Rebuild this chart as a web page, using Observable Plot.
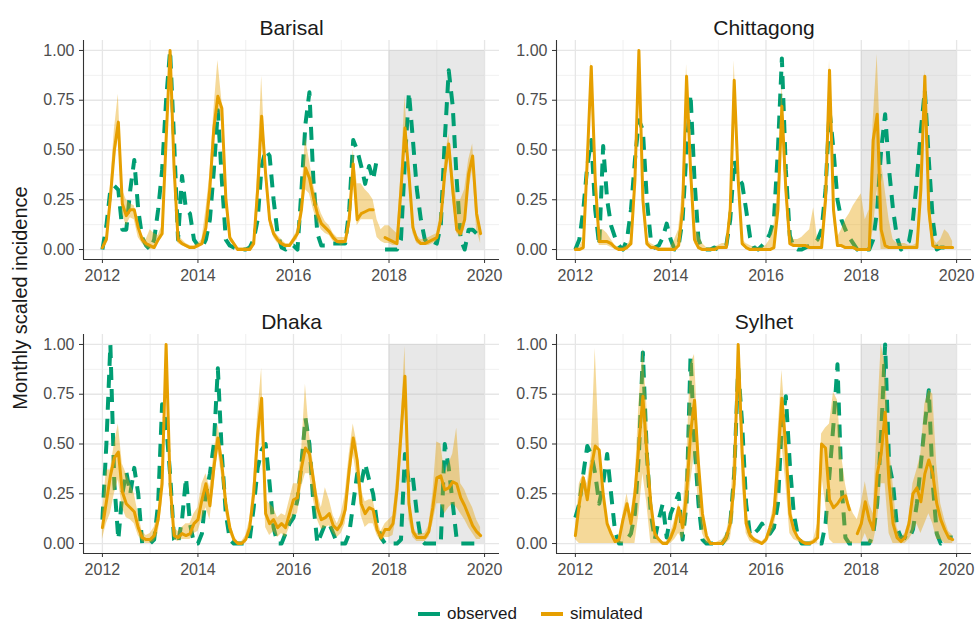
<!DOCTYPE html>
<html>
<head>
<meta charset="utf-8">
<script src="https://cdn.jsdelivr.net/npm/d3@7"></script>
<script src="https://cdn.jsdelivr.net/npm/@observablehq/plot@0.6"></script>
<style>
  body { margin: 0; background: #fff; }
  #root { position: relative; width: 976px; height: 627px; font-family: "Liberation Sans", Arial, sans-serif; overflow: hidden; }
  .pnl { position: absolute; }
  .ylab { position: absolute; left: 20px; top: 298px; transform: translate(-50%, -50%) rotate(-90deg); font-size: 20px; color: #1a1a1a; white-space: nowrap; }
  .leg { position: absolute; font-size: 17px; color: #1a1a1a; line-height: 20px; }
  .sw { position: absolute; width: 22px; }
</style>
</head>
<body>
<div id="root">
  <div class="pnl" id="p0" style="left:0;top:0"></div>
  <div class="pnl" id="p1" style="left:500px;top:0"></div>
  <div class="pnl" id="p2" style="left:0;top:294px"></div>
  <div class="pnl" id="p3" style="left:500px;top:294px"></div>
  <div class="ylab">Monthly scaled incidence</div>
  <div class="sw" style="left:418px;top:612px;height:4px;background:#009E73"></div>
  <div class="leg" style="left:447px;top:604px">observed</div>
  <div class="sw" style="left:541px;top:612px;height:4px;background:#E69F00"></div>
  <div class="leg" style="left:570px;top:604px">simulated</div>
</div>
<script>
// ---- categories / ticks ----
const regions = ["Barisal", "Chittagong", "Dhaka", "Sylhet"];
const firstYear = 2012;
const nMonths = 96;
const xTicks = [2012, 2014, 2016, 2018, 2020];
const xGridMajor = [2012, 2014, 2016, 2018, 2020];
const xGridMinor = [2013, 2015, 2017, 2019];
const yTicks = [0, 0.25, 0.5, 0.75, 1];
const yGridMinor = [0.125, 0.375, 0.625, 0.875];
const forecastStart = 2018, forecastEnd = 2020;

// ---- Barisal ----
const barisalObs = [
  0.00,0.12,0.30,0.32,0.30,0.10,0.10,0.30,0.45,0.20,0.06,0.02,
  0.00,0.05,0.20,0.40,0.75,1.00,0.55,0.05,0.37,0.20,0.18,0.05,
  0.02,0.01,0.05,0.15,0.40,0.70,0.35,0.05,0.02,0.01,0.00,0.00,
  0.00,0.01,0.05,0.15,0.42,0.50,0.47,0.25,0.08,0.01,0.00,0.02,
  0.02,0.00,0.30,0.63,0.79,0.35,0.08,0.02,0.02,0.03,0.03,0.03,
  0.03,0.03,0.20,0.55,0.50,0.42,0.33,0.42,0.35,0.46,null,0.00,
  0.00,0.00,0.00,0.05,0.45,0.79,0.55,0.30,0.15,0.05,0.03,0.04,
  0.03,0.12,0.55,0.90,0.72,0.35,0.05,0.00,0.10,0.10,0.08,0.06];
const barisalSim = [
  0.01,0.05,0.26,0.50,0.64,0.23,0.17,0.20,0.20,0.11,0.05,0.03,
  0.02,0.01,0.05,0.08,0.55,1.00,0.41,0.05,0.03,0.02,0.01,0.01,
  0.02,0.03,0.11,0.31,0.61,0.77,0.71,0.26,0.06,0.03,0.00,0.00,
  0.00,0.00,0.03,0.30,0.67,0.38,0.15,0.08,0.05,0.03,0.02,0.02,
  0.05,0.08,0.20,0.41,0.36,0.26,0.18,0.13,0.11,0.09,0.06,0.04,
  0.04,0.04,0.15,0.43,0.15,0.18,0.19,0.20,0.20,null,null,0.06,
  0.05,0.04,0.03,0.30,0.61,0.38,0.11,0.05,0.03,0.03,0.04,0.05,
  0.06,0.15,0.38,0.53,0.30,0.10,0.08,0.15,0.38,0.47,0.18,0.08];
const barisalLo = [
  0.00,0.03,0.22,0.42,0.58,0.18,0.12,0.16,0.15,0.06,0.03,0.01,
  0.00,0.00,0.03,0.06,0.50,0.97,0.38,0.03,0.02,0.01,0.00,0.00,
  0.01,0.02,0.08,0.25,0.55,0.72,0.65,0.22,0.04,0.02,0.00,0.00,
  0.00,0.00,0.02,0.25,0.60,0.33,0.12,0.06,0.03,0.02,0.01,0.01,
  0.03,0.05,0.15,0.30,0.28,0.20,0.14,0.10,0.08,0.07,0.04,0.03,
  0.02,0.03,0.10,0.35,0.12,0.15,0.15,0.15,0.15,0.06,0.04,0.03,
  0.03,0.02,0.02,0.25,0.55,0.33,0.08,0.03,0.02,0.02,0.02,0.03,
  0.04,0.12,0.30,0.48,0.25,0.08,0.06,0.10,0.30,0.40,0.10,0.03];
const barisalHi = [
  0.02,0.07,0.32,0.60,0.78,0.30,0.25,0.23,0.22,0.13,0.07,0.05,
  0.10,0.08,0.07,0.12,0.62,1.00,0.45,0.07,0.05,0.03,0.02,0.02,
  0.03,0.05,0.20,0.38,0.70,0.95,0.75,0.30,0.08,0.04,0.01,0.01,
  0.01,0.01,0.05,0.40,0.87,0.45,0.18,0.10,0.07,0.05,0.03,0.03,
  0.06,0.10,0.25,0.56,0.45,0.33,0.24,0.18,0.14,0.12,0.08,0.06,
  0.06,0.06,0.20,0.50,0.33,0.33,0.30,0.28,0.25,0.15,0.10,0.12,
  0.12,0.10,0.08,0.38,0.77,0.45,0.15,0.07,0.05,0.05,0.06,0.07,
  0.08,0.20,0.45,0.58,0.40,0.25,0.25,0.30,0.45,0.53,0.25,0.10];

// ---- Chittagong ----
const chittagongObs = [
  0.00,0.05,0.20,0.42,0.55,0.20,0.02,0.52,0.25,0.12,0.06,0.02,
  0.00,0.05,0.20,0.45,0.65,0.60,0.25,0.05,0.01,0.02,0.06,0.13,
  0.05,0.00,0.02,0.15,0.50,0.78,0.35,0.05,0.00,0.00,0.00,0.01,
  0.00,0.00,0.02,0.15,0.45,0.36,0.33,0.20,0.06,0.01,0.00,0.02,
  0.04,0.08,0.15,0.50,0.96,0.40,0.07,0.01,0.00,0.00,0.01,0.02,
  0.03,0.05,0.10,0.30,0.70,0.50,0.25,0.15,0.10,0.06,0.03,0.00,
  0.00,0.00,0.00,0.05,0.20,0.50,0.68,0.40,0.20,0.06,0.00,0.02,
  0.04,0.15,0.35,0.60,0.80,0.45,0.15,0.00,0.01,0.01,0.01,0.01];
const chittagongSim = [
  0.00,0.00,0.01,0.45,0.92,0.35,0.04,0.04,0.04,0.03,0.01,0.00,
  0.00,0.01,0.03,0.35,1.00,0.25,0.03,0.01,0.01,0.00,0.00,0.00,
  0.00,0.00,0.02,0.20,0.87,0.40,0.05,0.01,0.00,0.00,0.00,0.00,
  0.01,0.01,0.01,0.20,0.85,0.35,0.03,0.01,0.00,0.00,0.00,0.00,
  0.00,0.00,0.01,0.20,0.72,0.30,0.03,0.02,0.02,0.02,0.02,0.01,
  0.01,0.01,0.01,0.25,0.90,0.20,0.02,0.02,0.01,0.01,0.01,0.00,
  0.00,0.00,0.00,0.55,0.68,0.10,0.02,0.01,0.01,0.01,0.01,0.01,
  0.01,0.01,0.01,0.30,0.87,0.20,0.02,0.01,0.01,0.01,0.01,0.01];
const chittagongLo = [
  0.00,0.00,0.00,0.40,0.88,0.28,0.02,0.02,0.02,0.01,0.00,0.00,
  0.00,0.00,0.02,0.30,0.97,0.20,0.02,0.00,0.00,0.00,0.00,0.00,
  0.00,0.00,0.01,0.15,0.80,0.33,0.03,0.00,0.00,0.00,0.00,0.00,
  0.00,0.00,0.00,0.15,0.78,0.30,0.02,0.00,0.00,0.00,0.00,0.00,
  0.00,0.00,0.00,0.15,0.60,0.25,0.02,0.01,0.01,0.01,0.01,0.00,
  0.00,0.00,0.00,0.20,0.85,0.15,0.01,0.01,0.00,0.00,0.00,0.00,
  0.00,0.00,0.00,0.10,0.30,0.00,0.00,0.00,0.00,0.00,0.00,0.00,
  0.00,0.00,0.00,0.25,0.80,0.15,0.01,0.00,0.00,0.00,0.00,0.00];
const chittagongHi = [
  0.01,0.01,0.05,0.50,0.95,0.40,0.10,0.10,0.08,0.05,0.02,0.01,
  0.01,0.02,0.05,0.40,1.00,0.30,0.05,0.03,0.02,0.01,0.01,0.01,
  0.01,0.05,0.10,0.30,0.93,0.47,0.10,0.08,0.03,0.01,0.01,0.01,
  0.02,0.03,0.03,0.25,0.95,0.40,0.05,0.03,0.02,0.01,0.01,0.01,
  0.02,0.05,0.12,0.30,0.83,0.40,0.08,0.05,0.05,0.06,0.08,0.10,
  0.21,0.05,0.05,0.35,0.95,0.28,0.06,0.10,0.15,0.18,0.22,0.25,
  0.28,0.15,0.20,0.65,0.98,0.45,0.30,0.15,0.05,0.03,0.03,0.03,
  0.02,0.02,0.03,0.40,0.90,0.30,0.06,0.03,0.05,0.10,0.08,0.04];

// ---- Dhaka ----
const dhakaObs = [
  0.12,0.50,1.00,0.30,0.02,0.25,0.36,0.25,0.38,0.25,0.00,0.00,
  0.00,0.02,0.20,0.70,0.60,0.35,0.02,0.00,0.12,0.33,0.10,0.00,
  0.00,0.05,0.25,0.35,0.50,0.88,0.45,0.15,0.02,0.00,0.00,0.00,
  0.00,0.02,0.18,0.38,0.47,0.50,0.30,0.08,0.00,0.00,0.05,0.10,
  0.13,0.22,0.40,0.63,0.50,0.20,0.00,0.05,0.10,0.10,0.05,0.00,
  0.00,0.00,0.05,0.20,0.35,0.30,0.40,0.32,0.25,0.10,0.03,0.00,
  0.00,0.00,0.00,0.02,0.45,0.30,0.33,0.15,0.02,0.00,0.00,0.00,
  0.00,0.00,0.50,0.38,0.20,0.02,0.00,0.00,0.00,0.00,0.00,0.00];
const dhakaSim = [
  0.08,0.21,0.34,0.43,0.46,0.26,0.20,0.18,0.16,0.08,0.03,0.02,
  0.02,0.04,0.12,0.30,1.00,0.30,0.04,0.03,0.05,0.04,0.05,0.10,
  0.12,0.22,0.30,0.19,0.38,0.53,0.40,0.20,0.08,0.02,0.00,0.00,
  0.02,0.08,0.25,0.55,0.73,0.15,0.10,0.12,0.08,0.10,0.08,0.15,
  0.22,0.23,0.38,0.48,0.45,0.32,0.18,0.12,0.13,0.15,0.09,0.07,
  0.10,0.17,0.37,0.53,0.42,0.20,0.15,0.18,0.17,0.07,0.03,0.07,
  0.07,0.10,0.27,0.55,0.84,0.20,0.06,0.03,0.03,0.03,0.06,0.18,
  0.33,0.34,0.27,0.28,0.31,0.30,0.23,0.19,0.14,0.09,0.06,0.04];
const dhakaLo = [
  0.02,0.10,0.15,0.25,0.32,0.18,0.13,0.12,0.10,0.04,0.01,0.00,
  0.00,0.01,0.05,0.20,0.95,0.25,0.02,0.01,0.02,0.02,0.02,0.05,
  0.06,0.12,0.18,0.12,0.28,0.47,0.33,0.15,0.05,0.01,0.00,0.00,
  0.00,0.04,0.18,0.42,0.60,0.08,0.04,0.06,0.03,0.05,0.03,0.08,
  0.14,0.15,0.28,0.35,0.35,0.22,0.12,0.07,0.08,0.09,0.05,0.03,
  0.05,0.10,0.28,0.45,0.32,0.14,0.08,0.10,0.10,0.04,0.01,0.03,
  0.03,0.04,0.15,0.40,0.70,0.12,0.03,0.01,0.01,0.01,0.03,0.10,
  0.20,0.20,0.15,0.18,0.20,0.18,0.15,0.12,0.08,0.05,0.02,0.02];
const dhakaHi = [
  0.15,0.37,0.37,0.50,0.60,0.40,0.35,0.30,0.25,0.15,0.06,0.04,
  0.05,0.08,0.15,0.38,1.00,0.35,0.08,0.06,0.08,0.10,0.10,0.15,
  0.18,0.30,0.35,0.28,0.45,0.60,0.47,0.26,0.12,0.04,0.01,0.01,
  0.04,0.12,0.32,0.65,0.88,0.22,0.20,0.18,0.13,0.15,0.14,0.22,
  0.30,0.30,0.45,0.80,0.55,0.40,0.25,0.18,0.28,0.22,0.14,0.10,
  0.15,0.25,0.45,0.60,0.50,0.27,0.21,0.22,0.22,0.12,0.06,0.10,
  0.12,0.14,0.35,0.60,0.99,0.28,0.09,0.05,0.05,0.05,0.09,0.25,
  0.51,0.50,0.35,0.40,0.45,0.58,0.30,0.27,0.22,0.18,0.12,0.08];

// ---- Sylhet ----
const sylhetObs = [
  0.13,0.20,0.35,0.49,0.45,0.35,0.20,0.30,0.45,0.25,0.06,0.00,
  0.00,0.02,0.05,0.15,0.45,0.96,0.45,0.15,0.02,0.12,0.20,0.03,
  0.15,0.20,0.25,0.02,0.20,0.94,0.50,0.20,0.02,0.00,0.00,0.00,
  0.00,0.00,0.03,0.10,0.35,0.88,0.60,0.20,0.04,0.05,0.07,0.10,
  0.06,0.05,0.08,0.20,0.60,0.74,0.40,0.15,0.04,0.00,0.00,0.00,
  0.00,0.00,0.00,0.10,0.35,0.60,0.90,0.30,0.03,0.00,0.00,0.00,
  0.00,0.00,0.00,0.05,0.20,0.55,1.00,0.40,0.30,0.08,0.03,0.03,
  0.02,0.07,0.20,0.40,0.60,0.77,0.30,0.05,0.00,0.02,0.03,0.03];
const sylhetSim = [
  0.04,0.20,0.33,0.22,0.38,0.49,0.47,0.25,0.10,0.05,0.01,0.02,
  0.12,0.20,0.10,0.25,0.50,0.74,0.45,0.20,0.05,0.02,0.00,0.00,
  0.03,0.08,0.18,0.08,0.25,0.55,0.72,0.40,0.15,0.04,0.00,0.00,
  0.00,0.00,0.03,0.10,0.30,1.00,0.45,0.10,0.04,0.02,0.01,0.00,
  0.02,0.08,0.15,0.42,0.73,0.48,0.15,0.07,0.03,0.01,0.00,0.00,
  0.01,0.03,0.50,0.48,0.22,0.18,0.20,0.23,0.24,0.17,null,0.05,
  0.10,0.21,0.12,0.07,0.35,0.45,0.66,0.30,0.10,0.03,0.01,0.03,
  0.10,0.25,0.28,0.21,0.35,0.42,0.35,0.20,0.12,0.07,0.03,0.02];
const sylhetLo = [
  0.02,0.00,0.00,0.00,0.00,0.00,0.00,0.00,0.00,0.00,0.00,0.00,
  0.00,0.00,0.00,0.00,0.15,0.35,0.20,0.00,0.00,0.00,0.00,0.00,
  0.00,0.02,0.05,0.02,0.10,0.30,0.45,0.20,0.05,0.00,0.00,0.00,
  0.00,0.00,0.00,0.02,0.15,0.95,0.30,0.05,0.01,0.00,0.00,0.00,
  0.00,0.03,0.08,0.20,0.50,0.30,0.05,0.02,0.01,0.00,0.00,0.00,
  0.00,0.00,0.35,0.20,0.02,0.00,0.00,0.00,0.00,0.00,0.00,0.00,
  0.00,0.05,0.00,0.00,0.10,0.30,0.30,0.05,0.00,0.00,0.00,0.00,
  0.02,0.05,0.10,0.05,0.10,0.15,0.10,0.02,0.02,0.00,0.00,0.00];
const sylhetHi = [
  0.05,0.30,0.35,0.30,0.45,0.98,0.50,0.30,0.12,0.06,0.02,0.02,
  0.15,0.25,0.15,0.30,0.70,0.98,0.70,0.30,0.08,0.03,0.01,0.01,
  0.05,0.12,0.20,0.15,0.40,0.90,0.95,0.50,0.20,0.05,0.01,0.00,
  0.01,0.02,0.05,0.15,0.50,1.00,0.70,0.20,0.07,0.03,0.02,0.01,
  0.03,0.10,0.20,0.55,0.87,0.60,0.25,0.10,0.04,0.02,0.01,0.01,
  0.02,0.10,0.55,0.58,0.60,0.76,0.72,0.45,0.30,0.20,0.15,0.12,
  0.20,0.31,0.20,0.15,0.60,1.00,0.90,0.50,0.30,0.08,0.03,0.05,
  0.12,0.30,0.37,0.45,0.70,0.77,0.75,0.40,0.20,0.12,0.06,0.04];

const seriesByRegion = [
  [barisalObs, barisalSim, barisalLo, barisalHi],
  [chittagongObs, chittagongSim, chittagongLo, chittagongHi],
  [dhakaObs, dhakaSim, dhakaLo, dhakaHi],
  [sylhetObs, sylhetSim, sylhetLo, sylhetHi]
];

const GREEN = "#009E73", ORANGE = "#E69F00";
// ggplot-style 5% expansion of data ranges
const tFirst = firstYear, tLast = firstYear + (nMonths - 1) / 12;
const xPad = (tLast - tFirst) * 0.05;
const xDomain = [tFirst - xPad, tLast + xPad];
const yDomain = [-0.05, 1.05];

function makePanel(name, [obs, sim, lo, hi], left) {
  const data = d3.range(nMonths).map(i => ({
    t: firstYear + i / 12, obs: obs[i], sim: sim[i], lo: lo[i], hi: hi[i]
  }));
  const width = left ? 500 : 476;
  return Plot.plot({
    width, height: 290,
    marginLeft: left ? 83 : 56, marginRight: left ? 1 : 5,
    marginTop: 40, marginBottom: 31,
    x: {domain: xDomain},
    y: {domain: yDomain},
    style: {fontFamily: "'Liberation Sans', Arial, sans-serif", fontSize: "16px", color: "#4d4d4d", background: "transparent", overflow: "visible"},
    marks: [
      Plot.ruleX(xGridMinor, {stroke: "#ececec", strokeWidth: 0.8}),
      Plot.ruleY(yGridMinor, {stroke: "#ececec", strokeWidth: 0.8}),
      Plot.ruleX(xGridMajor, {stroke: "#e6e6e6", strokeWidth: 1.3}),
      Plot.ruleY(yTicks, {stroke: "#e6e6e6", strokeWidth: 1.3}),
      Plot.rect([{x1: forecastStart, x2: forecastEnd, y1: 0, y2: 1}], {x1: "x1", x2: "x2", y1: "y1", y2: "y2", fill: "#bebebe", fillOpacity: 0.35}),
      Plot.line(data, {x: "t", y: "obs", stroke: GREEN, strokeWidth: 4, strokeDasharray: "13,9", strokeLinecap: "butt", strokeLinejoin: "round"}),
      Plot.areaY(data, {x: "t", y1: "lo", y2: "hi", fill: ORANGE, fillOpacity: 0.4}),
      Plot.line(data, {x: "t", y: "sim", stroke: ORANGE, strokeWidth: 3}),
      Plot.ruleX([xDomain[0]], {stroke: "#333", strokeWidth: 1.1}),
      Plot.ruleY([yDomain[0]], {stroke: "#333", strokeWidth: 1.1}),
      Plot.axisX({ticks: xTicks, tickFormat: d => String(d), tickSize: 4, tickPadding: 6, label: null, stroke: "#333"}),
      Plot.axisY({ticks: yTicks, tickFormat: d3.format(".2f"), tickSize: 4, tickPadding: 5, label: null, stroke: "#333"}),
      Plot.text([name], {frameAnchor: "top", dy: -20, fontSize: 21, fill: "#1a1a1a"})
    ]
  });
}

regions.forEach((name, i) => {
  const el = document.getElementById("p" + i);
  el.appendChild(makePanel(name, seriesByRegion[i], i % 2 === 0));
});
</script>
</body>
</html>
